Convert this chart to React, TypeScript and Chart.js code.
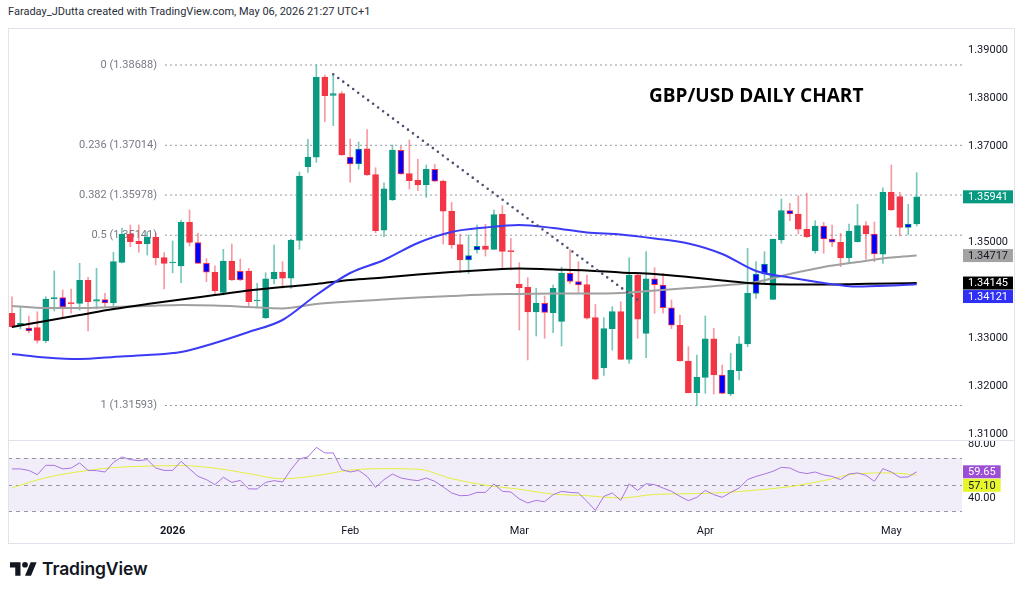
import React, { useEffect, useRef } from 'react';
import { Chart, registerables } from 'chart.js';

Chart.register(...registerables);

const FONT = 'Roboto, "Noto Sans", "DejaVu Sans", sans-serif';

// ---- Daily GBP/USD candles (bar index 0..107) ----
const opens = [1.33515, 1.33256, 1.33208, 1.33215, 1.32944, 1.33813, 1.33840, 1.33729, 1.33723, 1.34202,
  1.33765, 1.33798, 1.33729, 1.34577, 1.35167, 1.35015, 1.34965, 1.35098, 1.34673, 1.34563,
  1.34500, 1.35410, 1.34990, 1.34556, 1.34369, 1.33952, 1.34604, 1.34390, 1.34396, 1.33771,
  1.33417, 1.34229, 1.34375, 1.34244, 1.35035, 1.36569, 1.36765, 1.38438, 1.38056, 1.38090,
  1.36771, 1.36625, 1.36942, 1.36402, 1.35244, 1.35875, 1.36910, 1.36423, 1.36285, 1.36188,
  1.36515, 1.36271, 1.35646, 1.34944, 1.34625, 1.34833, 1.34917, 1.34848, 1.35577, 1.34819,
  1.34119, 1.34056, 1.33542, 1.33723, 1.33527, 1.33348, 1.34348, 1.34173, 1.34115, 1.33423,
  1.32375, 1.33194, 1.33548, 1.32556, 1.34313, 1.33098, 1.34235, 1.34104, 1.33631, 1.33265,
  1.32521, 1.31860, 1.32181, 1.32985, 1.32229, 1.31833, 1.32319, 1.32875, 1.33931, 1.34333,
  1.33806, 1.35042, 1.35656, 1.35583, 1.35265, 1.34819, 1.35333, 1.35063, 1.34994, 1.34673,
  1.35006, 1.35340, 1.35167, 1.34744, 1.36035, 1.35944, 1.35306, 1.35375];
const highs = [1.33860, 1.33646, 1.33458, 1.33548, 1.33860, 1.34396, 1.34000, 1.34021, 1.34556, 1.34265,
  1.34452, 1.33931, 1.34785, 1.35292, 1.35354, 1.35354, 1.35215, 1.35188, 1.34777, 1.35021,
  1.35458, 1.35667, 1.35181, 1.34652, 1.34506, 1.34848, 1.34958, 1.34646, 1.34452, 1.34140,
  1.34360, 1.34938, 1.34590, 1.35063, 1.36458, 1.37140, 1.38688, 1.38479, 1.38479, 1.38131,
  1.37146, 1.37083, 1.37344, 1.36548, 1.36235, 1.37021, 1.37000, 1.37125, 1.36723, 1.36604,
  1.36619, 1.36292, 1.35827, 1.35160, 1.35150, 1.35354, 1.35369, 1.35667, 1.35756, 1.35077,
  1.34569, 1.34256, 1.34035, 1.33875, 1.34104, 1.34479, 1.34840, 1.34590, 1.34313, 1.33698,
  1.33423, 1.33652, 1.33756, 1.34673, 1.34360, 1.34798, 1.34465, 1.34348, 1.33792, 1.33479,
  1.32819, 1.32646, 1.33458, 1.33202, 1.32438, 1.32681, 1.33027, 1.34869, 1.34590, 1.34798,
  1.35063, 1.35896, 1.35806, 1.35965, 1.36015, 1.35444, 1.35410, 1.35354, 1.35181, 1.35375,
  1.35785, 1.35423, 1.35417, 1.36131, 1.36604, 1.36035, 1.35785, 1.36444];
const lows = [1.33219, 1.33188, 1.33104, 1.32896, 1.32902, 1.33563, 1.33423, 1.33515, 1.33583, 1.33146,
  1.33604, 1.33652, 1.33583, 1.34563, 1.34902, 1.34785, 1.34729, 1.34521, 1.34021, 1.34360,
  1.34152, 1.34917, 1.34552, 1.34173, 1.33917, 1.33896, 1.34198, 1.34194, 1.33652, 1.33652,
  1.33406, 1.34125, 1.34035, 1.34035, 1.34848, 1.36452, 1.36660, 1.37506, 1.37423, 1.36802,
  1.36244, 1.36515, 1.36385, 1.35194, 1.35110, 1.35865, 1.36406, 1.36104, 1.36069, 1.35931,
  1.36254, 1.34958, 1.34869, 1.34360, 1.34340, 1.34765, 1.34708, 1.34844, 1.34452, 1.34417,
  1.33167, 1.32542, 1.33042, 1.32994, 1.33110, 1.32833, 1.34131, 1.33948, 1.33390, 1.32129,
  1.32219, 1.32750, 1.32546, 1.32473, 1.32994, 1.32590, 1.33515, 1.33515, 1.33194, 1.32510,
  1.31854, 1.31593, 1.31848, 1.31833, 1.31838, 1.31798, 1.32125, 1.32819, 1.33827, 1.34140,
  1.33802, 1.34973, 1.35444, 1.35167, 1.35090, 1.34765, 1.34765, 1.34902, 1.34485, 1.34556,
  1.35000, 1.34640, 1.34590, 1.34556, 1.35656, 1.35125, 1.35146, 1.35333];
const closes = [1.33235, 1.33306, 1.33146, 1.32952, 1.33813, 1.33840, 1.33646, 1.33715, 1.34202, 1.33756,
  1.33798, 1.33729, 1.34590, 1.35160, 1.35006, 1.34965, 1.35098, 1.34673, 1.34556, 1.34583,
  1.35410, 1.34990, 1.34556, 1.34369, 1.33985, 1.34604, 1.34208, 1.34208, 1.33756, 1.33792,
  1.34235, 1.34375, 1.34244, 1.35042, 1.36375, 1.36771, 1.38431, 1.38048, 1.38090, 1.36813,
  1.36625, 1.36938, 1.36396, 1.35235, 1.36110, 1.36917, 1.36417, 1.36277, 1.36188, 1.36515,
  1.36265, 1.35640, 1.34938, 1.34625, 1.34715, 1.34910, 1.34848, 1.35569, 1.34806, 1.34798,
  1.34048, 1.33542, 1.33729, 1.33535, 1.34035, 1.34348, 1.34181, 1.34104, 1.33413, 1.32140,
  1.33194, 1.33548, 1.32556, 1.34313, 1.33390, 1.34235, 1.34110, 1.33631, 1.33265, 1.32521,
  1.31860, 1.32181, 1.32985, 1.32229, 1.31848, 1.32327, 1.32881, 1.33931, 1.34333, 1.34542,
  1.35056, 1.35656, 1.35583, 1.35265, 1.35110, 1.35333, 1.35063, 1.34994, 1.34667, 1.35229,
  1.35340, 1.35167, 1.34750, 1.36035, 1.35667, 1.35306, 1.35375, 1.35941];
// bars highlighted with a blue body
const blueBars = [2, 6, 11, 22, 23, 27, 40, 41, 46, 50, 54, 55, 63, 66, 67, 76, 77, 78, 84, 88, 89, 92, 96, 97, 102, 106];

// ---- Moving averages (sampled at these bar indices) ----
const maIdx = [0, 4, 8, 12, 16, 20, 24, 28, 32, 36, 40, 44, 48, 52, 56, 60, 64, 68, 72, 76, 80, 84, 88, 92, 96, 100, 104, 107];
const maBlue = [1.32667, 1.32594, 1.32562, 1.32604, 1.32646, 1.32708, 1.32896, 1.33125, 1.33375, 1.33896, 1.34354, 1.34625, 1.34979, 1.35208,
  1.35302, 1.35354, 1.35292, 1.35198, 1.35156, 1.35073, 1.34969, 1.34750, 1.34396, 1.34260, 1.34146, 1.34073, 1.34094, 1.34121];
const maBlack = [1.33229, 1.33354, 1.33479, 1.33604, 1.33708, 1.33802, 1.33896, 1.33990, 1.34063, 1.34125, 1.34208, 1.34260, 1.34323, 1.34375,
  1.34417, 1.34448, 1.34427, 1.34406, 1.34365, 1.34333, 1.34271, 1.34198, 1.34135, 1.34115, 1.34115, 1.34125, 1.34135, 1.34145];
const maGray = [1.33667, 1.33625, 1.33625, 1.33646, 1.33667, 1.33688, 1.33677, 1.33646, 1.33615, 1.33708, 1.33760, 1.33802, 1.33844, 1.33875,
  1.33906, 1.33917, 1.33927, 1.33927, 1.33938, 1.33990, 1.34042, 1.34094, 1.34167, 1.34333, 1.34479, 1.34583, 1.34677, 1.34717];

// ---- RSI ----
const rsi = [61.8, 61.8, 60.7, 57.5, 64.5, 64.5, 61.8, 62.5, 66.3, 60.7,
  60.5, 59.5, 66.7, 70.8, 68.8, 68.0, 68.8, 62.5, 60.7, 60.7,
  67.5, 61.8, 56.2, 53.8, 50.0, 55.5, 51.7, 53.2, 46.8, 46.8,
  51.7, 53.0, 52.0, 61.3, 69.3, 70.8, 78.0, 73.8, 73.8, 61.3,
  59.5, 60.7, 56.2, 48.0, 53.8, 58.0, 55.0, 53.8, 53.0, 55.0,
  52.5, 48.3, 43.8, 41.7, 42.0, 44.2, 44.2, 50.5, 45.0, 44.5,
  39.3, 36.3, 38.2, 37.2, 42.5, 45.0, 44.2, 43.8, 37.5, 30.7,
  41.2, 43.8, 38.2, 50.5, 45.7, 50.7, 50.0, 47.5, 45.0, 41.2,
  38.0, 40.5, 45.7, 42.5, 40.5, 44.2, 47.5, 53.8, 56.2, 58.0,
  60.0, 63.0, 62.5, 59.5, 58.3, 59.5, 57.3, 56.2, 53.8, 58.0,
  58.8, 57.0, 52.5, 62.0, 59.5, 55.5, 55.8, 59.65];
const rsiMa = [47.7, 55.2, 59.8, 62.8, 63.9, 64.3, 62.4, 58.3, 54.4, 56.8, 60.9, 62.0, 61.6, 54.5,
  49.6, 46.6, 42.9, 41.7, 40.0, 42.7, 43.2, 44.0, 45.9, 48.5, 53.0, 58.3, 58.8, 57.1];

// ---- Fibonacci retracement & trendline ----
const fibLevels = ['0', '0.236', '0.382', '0.5', '1'];
const fibPrices = [1.38688, 1.37014, 1.35978, 1.35141, 1.31593];
const FIB_START = 18.1;
const trendX = [38, 74.5];
const trendY = [1.38494, 1.33729];

// ---- Axis ticks ----
const timeTickIdx = [19, 40, 60, 82, 104];
const timeTickLabels = ['2026', 'Feb', 'Mar', 'Apr', 'May'];
const priceTicks = [1.31, 1.32, 1.33, 1.34, 1.35, 1.36, 1.37, 1.38, 1.39];
const hiddenPriceTicks = [1.34, 1.36];
const rsiTicks = [40, 60, 80];
const hiddenRsiTicks = [60];

const X_MIN = -0.47;
const X_MAX = 112.36;
const P_MIN = 1.30875;
const P_MAX = 1.394583;
const R_MIN = 26.5;
const R_MAX = 83.5;

const GREEN = '#089981';
const RED = '#f23645';
const GREEN_WICK = 'rgba(8,153,129,0.55)';
const RED_WICK = 'rgba(242,54,69,0.5)';
const BLUE_BODY = '#0000ff';

type Badge = { v: number; text: string; bg: string; fg: string };

function drawAxisLabels(chart: any, ticks: number[], hidden: number[], decimals: number) {
  const { ctx, chartArea, scales } = chart;
  const y = scales.y;
  ctx.save();
  ctx.font = `11px ${FONT}`;
  ctx.fillStyle = '#131722';
  ctx.textAlign = 'left';
  ctx.textBaseline = 'middle';
  ticks.forEach((v) => {
    if (hidden.some((h) => Math.abs(h - v) < 1e-9)) return;
    ctx.fillText(v.toFixed(decimals), chartArea.right + 6, y.getPixelForValue(v));
  });
  ctx.restore();
}

function drawBadges(chart: any, items: Badge[]) {
  const { ctx, chartArea, scales } = chart;
  const y = scales.y;
  ctx.save();
  ctx.font = `11px ${FONT}`;
  ctx.textBaseline = 'middle';
  ctx.textAlign = 'left';
  const arr = items.map((it) => ({ ...it, py: y.getPixelForValue(it.v) })).sort((a, b) => a.py - b.py);
  let prev = -Infinity;
  arr.forEach((it) => {
    const py = Math.max(it.py, prev + 13.5);
    prev = py;
    const w = ctx.measureText(it.text).width + 10;
    const x0 = chartArea.right + 1;
    ctx.fillStyle = it.bg;
    ctx.fillRect(x0, py - 6.5, w, 13);
    ctx.fillStyle = it.fg;
    ctx.fillText(it.text, x0 + 5, py + 0.5);
  });
  ctx.restore();
}

export default function App() {
  const priceRef = useRef<HTMLCanvasElement>(null);
  const rsiRef = useRef<HTMLCanvasElement>(null);

  useEffect(() => {
    const idx = closes.map((_, i) => i);
    const isUp = (i: number) => closes[i] >= opens[i];
    const isBlue = (i: number) => blueBars.indexOf(i) >= 0;

    const line = (xs: number[], ys: number[], color: string, width: number, order: number) => ({
      type: 'line' as const,
      data: xs.map((x, k) => ({ x, y: ys[k] })),
      borderColor: color,
      borderWidth: width,
      pointRadius: 0,
      cubicInterpolationMode: 'monotone' as const,
      fill: false,
      order,
    });

    const fibSets = fibPrices.map((p) => ({
      type: 'line' as const,
      data: [{ x: FIB_START, y: p }, { x: X_MAX, y: p }],
      borderColor: '#9598a1',
      borderWidth: 1,
      borderDash: [2, 3],
      pointRadius: 0,
      fill: false,
      order: 10,
    }));

    const fibPlugin = {
      id: 'fibLabels',
      beforeDatasetsDraw(chart: any) {
        const { ctx, scales } = chart;
        ctx.save();
        ctx.font = `11px ${FONT}`;
        ctx.fillStyle = '#787b86';
        ctx.textAlign = 'right';
        ctx.textBaseline = 'middle';
        const px = scales.x.getPixelForValue(FIB_START) - 8;
        fibPrices.forEach((p, k) => {
          ctx.fillText(`${fibLevels[k]} (${p.toFixed(5)})`, px, scales.y.getPixelForValue(p));
        });
        ctx.restore();
      },
    };

    const n = closes.length;
    const priceBadges: Badge[] = [
      { v: closes[n - 1], text: closes[n - 1].toFixed(5), bg: GREEN, fg: '#ffffff' },
      { v: maGray[maGray.length - 1], text: maGray[maGray.length - 1].toFixed(5), bg: '#a3a3a3', fg: '#131722' },
      { v: maBlack[maBlack.length - 1], text: maBlack[maBlack.length - 1].toFixed(5), bg: '#000000', fg: '#ffffff' },
      { v: maBlue[maBlue.length - 1], text: maBlue[maBlue.length - 1].toFixed(5), bg: '#2f2ff5', fg: '#ffffff' },
    ];
    const priceAxisPlugin = {
      id: 'priceAxis',
      afterDraw: (c: any) => {
        drawAxisLabels(c, priceTicks, hiddenPriceTicks, 5);
        drawBadges(c, priceBadges);
      },
    };

    const priceChart = new Chart(priceRef.current as HTMLCanvasElement, {
      type: 'bar',
      data: {
        datasets: [
          ...fibSets,
          {
            type: 'line',
            data: trendX.map((x, k) => ({ x, y: trendY[k] })),
            borderColor: '#4f4f70',
            borderWidth: 2.6,
            borderDash: [0, 6.2],
            borderCapStyle: 'round',
            pointRadius: 0,
            fill: false,
            order: 0,
          } as any,
          {
            type: 'bar',
            data: idx.map((i) => ({ x: i, y: [lows[i], highs[i]] })),
            backgroundColor: idx.map((i) => (isUp(i) ? GREEN_WICK : RED_WICK)),
            borderWidth: 0,
            barThickness: 1,
            grouped: false,
            order: 5,
          } as any,
          {
            type: 'bar',
            data: idx.map((i) => ({ x: i, y: [opens[i], closes[i]] })),
            backgroundColor: idx.map((i) => (isBlue(i) ? BLUE_BODY : isUp(i) ? GREEN : RED)),
            borderColor: idx.map((i) => (isUp(i) ? GREEN : RED)),
            borderWidth: 1,
            borderSkipped: false,
            barThickness: 6,
            minBarLength: 1,
            grouped: false,
            order: 4,
          } as any,
          line(maIdx, maGray, '#a0a0a0', 2, 3) as any,
          line(maIdx, maBlack, '#000000', 2, 2) as any,
          line(maIdx, maBlue, '#3b3bf5', 2, 1) as any,
        ],
      },
      options: {
        animation: false,
        responsive: false,
        maintainAspectRatio: false,
        layout: { padding: 0 },
        plugins: { legend: { display: false }, tooltip: { enabled: false } },
        events: [],
        scales: {
          x: { type: 'linear', min: X_MIN, max: X_MAX, offset: false, display: false },
          y: {
            type: 'linear',
            position: 'right',
            min: P_MIN,
            max: P_MAX,
            grid: { display: false, drawTicks: false },
            border: { display: false },
            afterFit: (s: any) => {
              s.width = 52;
            },
            ticks: { display: false },
          },
        },
      } as any,
      plugins: [fibPlugin, priceAxisPlugin],
    });

    const rsiBandPlugin = {
      id: 'rsiBand',
      beforeDatasetsDraw(chart: any) {
        const { ctx, chartArea, scales } = chart;
        const y = scales.y;
        const t = y.getPixelForValue(70);
        const b = y.getPixelForValue(30);
        ctx.save();
        ctx.fillStyle = 'rgba(126,87,194,0.1)';
        ctx.fillRect(chartArea.left, t, chartArea.right - chartArea.left, b - t);
        ctx.strokeStyle = '#9598a1';
        ctx.lineWidth = 1;
        ctx.setLineDash([4, 4]);
        [70, 50, 30].forEach((v) => {
          const py = Math.round(y.getPixelForValue(v)) + 0.5;
          ctx.beginPath();
          ctx.moveTo(chartArea.left, py);
          ctx.lineTo(chartArea.right, py);
          ctx.stroke();
        });
        ctx.restore();
      },
    };
    const rsiBadges: Badge[] = [
      { v: rsi[rsi.length - 1], text: rsi[rsi.length - 1].toFixed(2), bg: '#9c4fd4', fg: '#ffffff' },
      { v: rsiMa[rsiMa.length - 1], text: rsiMa[rsiMa.length - 1].toFixed(2), bg: '#e6f52c', fg: '#131722' },
    ];
    const rsiAxisPlugin = {
      id: 'rsiAxis',
      afterDraw: (c: any) => {
        drawAxisLabels(c, rsiTicks, hiddenRsiTicks, 2);
        drawBadges(c, rsiBadges);
      },
    };

    const rsiChart = new Chart(rsiRef.current as HTMLCanvasElement, {
      type: 'line',
      data: {
        datasets: [
          {
            data: idx.map((i) => ({ x: i, y: rsi[i] })),
            borderColor: '#a874e0',
            borderWidth: 1,
            pointRadius: 0,
            fill: false,
            order: 0,
          },
          {
            data: maIdx.map((x, k) => ({ x, y: rsiMa[k] })),
            borderColor: '#e3ef3e',
            borderWidth: 1,
            pointRadius: 0,
            cubicInterpolationMode: 'monotone',
            fill: false,
            order: 1,
          },
        ],
      },
      options: {
        animation: false,
        responsive: false,
        maintainAspectRatio: false,
        layout: { padding: 0 },
        events: [],
        plugins: { legend: { display: false }, tooltip: { enabled: false } },
        scales: {
          x: {
            type: 'linear',
            min: X_MIN,
            max: X_MAX,
            offset: false,
            grid: { display: false, drawTicks: false },
            border: { display: false },
            afterBuildTicks: (s: any) => {
              s.ticks = timeTickIdx.map((v) => ({ value: v }));
            },
            afterFit: (s: any) => {
              s.height = 27;
            },
            ticks: {
              autoSkip: false,
              maxRotation: 0,
              padding: 9,
              color: '#131722',
              font: (c: any) => ({ family: FONT, size: 11, weight: c.tick && c.tick.value === timeTickIdx[0] ? 'bold' : 'normal' }),
              callback: (v: any) => {
                const k = timeTickIdx.indexOf(Number(v));
                return k >= 0 ? timeTickLabels[k] : '';
              },
            },
          },
          y: {
            type: 'linear',
            position: 'right',
            min: R_MIN,
            max: R_MAX,
            grid: { display: false, drawTicks: false },
            border: { display: false },
            afterFit: (s: any) => {
              s.width = 52;
            },
            ticks: { display: false },
          },
        },
      } as any,
      plugins: [rsiBandPlugin, rsiAxisPlugin],
    });

    return () => {
      priceChart.destroy();
      rsiChart.destroy();
    };
  }, []);

  const lineColor = '#e0e3eb';
  return (
    <div style={{ position: 'absolute', left: 0, top: 0, width: 1024, height: 593, background: '#ffffff', overflow: 'hidden', fontFamily: FONT }}>
      <div style={{ position: 'absolute', left: 8, top: 5, fontSize: 11, lineHeight: '14px', color: '#2a2e39', whiteSpace: 'nowrap' }}>
        Faraday_JDutta created with TradingView.com, May 06, 2026 21:27 UTC+1
      </div>
      <canvas ref={priceRef} width={1006} height={412} style={{ position: 'absolute', left: 8, top: 28, width: 1006, height: 412 }} />
      <canvas ref={rsiRef} width={1006} height={103} style={{ position: 'absolute', left: 8, top: 440, width: 1006, height: 103 }} />
      <div style={{ position: 'absolute', left: 8, top: 28, width: 1006, height: 1, background: lineColor }} />
      <div style={{ position: 'absolute', left: 8, top: 440, width: 1006, height: 1, background: lineColor }} />
      <div style={{ position: 'absolute', left: 8, top: 543, width: 1006, height: 1, background: lineColor }} />
      <div style={{ position: 'absolute', left: 8, top: 28, width: 1, height: 515, background: lineColor }} />
      <div style={{ position: 'absolute', left: 1014, top: 28, width: 1, height: 515, background: lineColor }} />
      <div style={{ position: 'absolute', left: 649, top: 84, fontFamily: '"Open Sans", sans-serif', fontWeight: 700, fontSize: 19, lineHeight: '22px', color: '#000000', whiteSpace: 'nowrap' }}>
        GBP/USD DAILY CHART
      </div>
      <div style={{ position: 'absolute', left: 10, top: 556, height: 24, display: 'flex', alignItems: 'center' }}>
        <svg width={27} height={15} viewBox="0 3 36 19" style={{ display: 'block' }}>
          <path d="M14 22H7V11H0V4h14v18zM28 22h-8l7.5-18h8L28 22z" fill="#131722" />
          <circle cx="20" cy="7.5" r="3.8" fill="#131722" />
        </svg>
        <span style={{ marginLeft: 5, fontFamily: 'Inter, sans-serif', fontWeight: 600, fontSize: 17.5, color: '#131722', letterSpacing: '-0.1px' }}>
          TradingView
        </span>
      </div>
    </div>
  );
}
